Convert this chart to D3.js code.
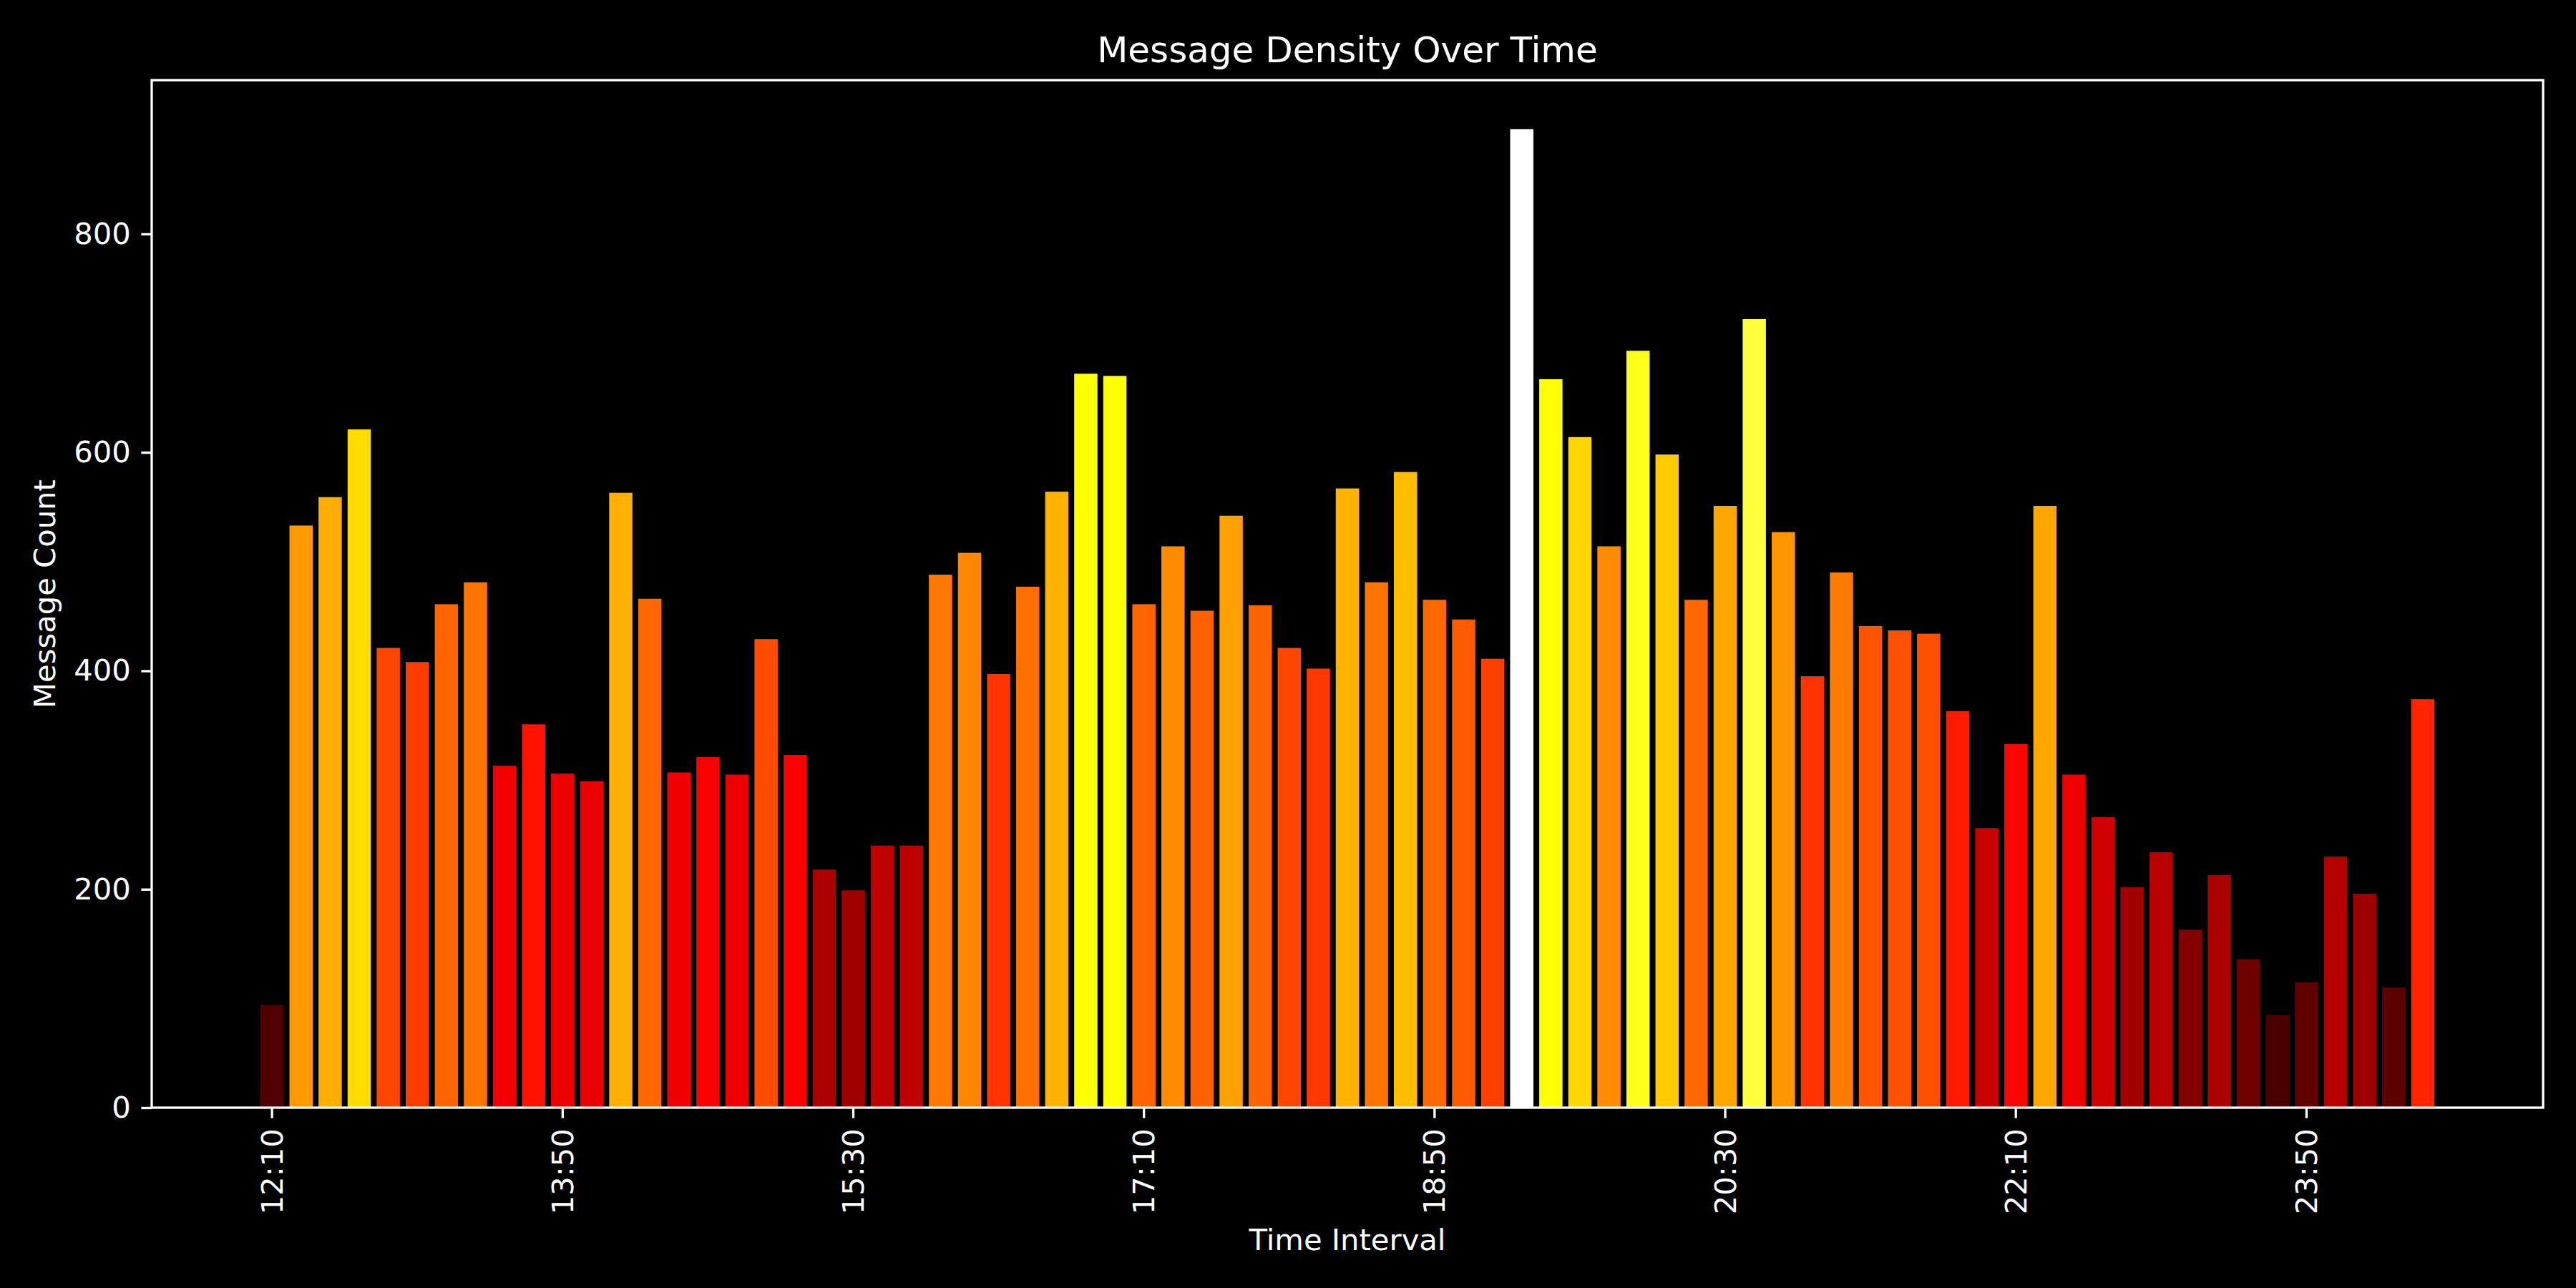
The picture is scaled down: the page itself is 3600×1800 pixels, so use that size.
<!DOCTYPE html>
<html>
<head>
<meta charset="utf-8">
<script src="https://cdn.jsdelivr.net/npm/d3@7"></script>
<style>
  html, body { margin: 0; padding: 0; background: #000; }
  svg { display: block; }
</style>
</head>
<body>
<script>
// ---- data ----
const timeLabels = [
  "12:10","12:20","12:30","12:40","12:50","13:00","13:10","13:20","13:30","13:40",
  "13:50","14:00","14:10","14:20","14:30","14:40","14:50","15:00","15:10","15:20",
  "15:30","15:40","15:50","16:00","16:10","16:20","16:30","16:40","16:50","17:00",
  "17:10","17:20","17:30","17:40","17:50","18:00","18:10","18:20","18:30","18:40",
  "18:50","19:00","19:10","19:20","19:30","19:40","19:50","20:00","20:10","20:20",
  "20:30","20:40","20:50","21:00","21:10","21:20","21:30","21:40","21:50","22:00",
  "22:10","22:20","22:30","22:40","22:50","23:00","23:10","23:20","23:30","23:40",
  "23:50","00:00","00:10","00:20","00:30"
];
const messageCounts = [
  94, 533, 559, 621, 421, 408, 461, 481, 313, 351,
  306, 299, 563, 466, 307, 321, 305, 429, 323, 218,
  199, 240, 240, 488, 508, 397, 477, 564, 672, 670,
  461, 514, 455, 542, 460, 421, 402, 567, 481, 582,
  465, 447, 411, 896, 667, 614, 514, 693, 598, 465,
  551, 722, 527, 395, 490, 441, 437, 434, 363, 256,
  333, 551, 305, 266, 202, 234, 163, 213, 136, 85,
  115, 230, 196, 110, 374
];
const shownTicks = ["12:10","13:50","15:30","17:10","18:50","20:30","22:10","23:50"];
const yTicks = [0, 200, 400, 600, 800];
const titleText = "Message Density Over Time";
const xLabelText = "Time Interval";
const yLabelText = "Message Count";

(function () {
// ---- layout ----
const W = 3600, H = 1800;
const pLeft = 212, pRight = 3554, pTop = 112, pBottom = 1548;
const font = "'DejaVu Sans', sans-serif";
const tickLen = 14.6, tickPad = 14.6, lw = 3.3, fs = 41.7;

const svg = d3.select("body").append("svg")
  .attr("width", W).attr("height", H)
  .style("background", "#000");

// matplotlib-like "hot" colormap
function hot(t) {
  t = Math.max(0, Math.min(1, t));
  const r = t < 0.365079 ? 0.0416 + (1 - 0.0416) * t / 0.365079 : 1;
  const g = t < 0.365079 ? 0 : (t < 0.746032 ? (t - 0.365079) / (0.746032 - 0.365079) : 1);
  const b = t < 0.746032 ? 0 : (t - 0.746032) / (1 - 0.746032);
  return d3.rgb(r * 255, g * 255, b * 255).toString();
}
const maxV = d3.max(messageCounts);

// x: matplotlib margins of 5% around bars spanning [-0.4, n-1+0.4]
const n = timeLabels.length;
const lo = -0.4, hi = n - 1 + 0.4, pad = (hi - lo) * 0.05;
const xl = d3.scaleLinear().domain([lo - pad, hi + pad]).range([pLeft, pRight]);
const x = d3.scaleBand().domain(timeLabels)
  .range([xl(-0.5), xl(n - 0.5)])
  .paddingInner(0.2).paddingOuter(0.1);

const y = d3.scaleLinear().domain([0, maxV * 1.05]).range([pBottom, pTop]);

// bars
svg.append("g").selectAll("rect")
  .data(messageCounts)
  .join("rect")
  .attr("x", (d, i) => x(timeLabels[i]))
  .attr("width", x.bandwidth())
  .attr("y", d => y(d))
  .attr("height", d => y(0) - y(d))
  .attr("fill", d => hot(d / maxV));

// frame
svg.append("rect")
  .attr("x", pLeft).attr("y", pTop)
  .attr("width", pRight - pLeft).attr("height", pBottom - pTop)
  .attr("fill", "none").attr("stroke", "#fff").attr("stroke-width", lw);

// x axis
const xAxis = d3.axisBottom(x).tickValues(shownTicks).tickSize(tickLen).tickPadding(tickPad);
const gx = svg.append("g").attr("transform", `translate(0,${pBottom})`).call(xAxis);
gx.select(".domain").remove();
gx.selectAll(".tick line").attr("stroke", "#fff").attr("stroke-width", lw);
gx.selectAll(".tick text")
  .attr("fill", "#fff").style("font-family", font).style("font-size", fs + "px")
  .attr("text-anchor", "end")
  .attr("dy", "0.35em")
  .attr("x", 0).attr("y", 0)
  .attr("transform", `translate(0,${tickLen + tickPad}) rotate(-90)`);

// y axis
const yAxis = d3.axisLeft(y).tickValues(yTicks).tickSize(tickLen).tickPadding(tickPad);
const gy = svg.append("g").attr("transform", `translate(${pLeft},0)`).call(yAxis);
gy.select(".domain").remove();
gy.selectAll(".tick line").attr("stroke", "#fff").attr("stroke-width", lw);
gy.selectAll(".tick text")
  .attr("fill", "#fff").style("font-family", font).style("font-size", fs + "px");

// title & labels
svg.append("text").attr("x", (pLeft + pRight) / 2).attr("y", 87)
  .attr("text-anchor", "middle").attr("fill", "#fff")
  .style("font-family", font).style("font-size", "50px").text(titleText);
svg.append("text").attr("x", (pLeft + pRight) / 2).attr("y", 1747)
  .attr("text-anchor", "middle").attr("fill", "#fff")
  .style("font-family", font).style("font-size", fs + "px").text(xLabelText);
svg.append("text")
  .attr("transform", `translate(77,${(pTop + pBottom) / 2}) rotate(-90)`)
  .attr("text-anchor", "middle").attr("fill", "#fff")
  .style("font-family", font).style("font-size", fs + "px").text(yLabelText);
})();
</script>
</body>
</html>
